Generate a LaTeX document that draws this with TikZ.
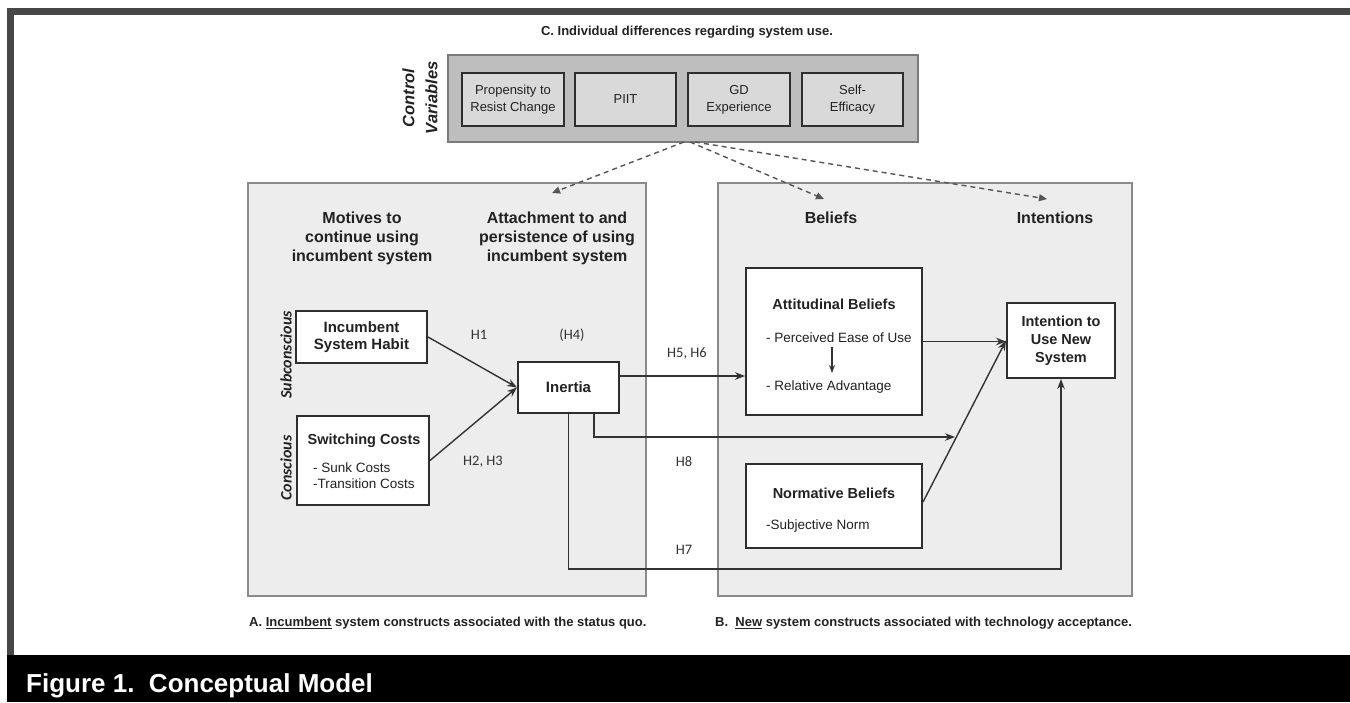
\documentclass[tikz,border=0pt]{standalone}
\usepackage{fontspec}
\setmainfont{Liberation Sans}
\newfontfamily\carl{Carlito}
\usetikzlibrary{arrows.meta}
\definecolor{framegray}{HTML}{474747}
\definecolor{panelfill}{HTML}{EDEDED}
\definecolor{panelline}{HTML}{8A8A8A}
\definecolor{cvfill}{HTML}{BEBEBE}
\definecolor{cvline}{HTML}{7A7A7A}
\definecolor{cvinner}{HTML}{D9D9D9}
\definecolor{boxline}{HTML}{2E2E2E}
\definecolor{txt}{HTML}{222222}
\definecolor{linec}{HTML}{333333}
\definecolor{dashc}{HTML}{555555}
\begin{document}
\begin{tikzpicture}[x=1pt,y=-1pt,
  every node/.style={inner sep=0pt, text=txt},
  panel/.style={draw=panelline, fill=panelfill, line width=1.6pt},
  cvbox/.style={draw=cvline, fill=cvfill, line width=1.6pt},
  cvitem/.style={draw=boxline, fill=cvinner, line width=2pt, minimum height=53pt, align=center, font=\fontsize{13}{17}\selectfont},
  wbox/.style={draw=boxline, fill=white, line width=2pt, align=center},
  btitle/.style={font=\fontsize{14.5}{17.5}\selectfont\bfseries, align=center},
  bitem/.style={anchor=west, font=\fontsize{13.5}{16}\selectfont},
  head/.style={font=\fontsize{16}{19}\selectfont\bfseries, align=center},
  hlab/.style={font=\carl\fontsize{14.5}{17}\selectfont, text=linec},
  side/.style={font=\carl\fontsize{16}{19}\selectfont\bfseries\itshape, rotate=90},
  captext/.style={anchor=west, font=\fontsize{13}{16}\selectfont\bfseries},
  arr/.style={draw=linec, line width=1.4pt, -{Stealth[length=10pt,width=7.5pt]}},
  darr/.style={draw=dashc, line width=1.4pt, dash pattern=on 5pt off 4pt, -{Triangle[length=8pt,width=7pt]}}
]
\useasboundingbox (0,0) rectangle (1350,702);
\fill[white] (0,0) rectangle (1350,702);
% frame
\fill[framegray] (7,8) rectangle (1350,15);
\fill[framegray] (7,8) rectangle (14,655);
\fill[black] (7,655) rectangle (1350,702);
\node[anchor=base west, text=white, font=\fontsize{26}{30}\selectfont\bfseries] (fig) at (26,692) {Figure 1.\ \ Conceptual Model};

% control variables
\node[font=\fontsize{13}{16}\selectfont\bfseries] (ctitle) at (687,32) {C. Individual differences regarding system use.};
\node[cvbox, minimum width=470pt, minimum height=87pt] (cv) at (683,98.5) {};
\node[cvitem, minimum width=102pt] (prc) at (513,99.5) {Propensity to\\Resist Change};
\node[cvitem, minimum width=101pt] (piit) at (625.5,99.5) {PIIT};
\node[cvitem, minimum width=102pt] (gd) at (739,99.5) {GD\\Experience};
\node[cvitem, minimum width=101pt] (se) at (852.5,99.5) {Self-\\Efficacy};
\node[rotate=90, align=center, font=\fontsize{16.5}{23}\selectfont\bfseries\itshape] (cvlab) at (420,98) {Control\\Variables};

% panels
\node[panel, minimum width=398pt, minimum height=413pt] (lp) at (447,389.5) {};
\node[panel, minimum width=414pt, minimum height=413pt] (rp) at (925,389.5) {};

% headers
\node[head] (h1t) at (362,238) {Motives to\\continue using\\incumbent system};
\node[head] (h2t) at (557,238) {Attachment to and\\persistence of using\\incumbent system};
\node[head] (h3t) at (831,218) {Beliefs};
\node[head] (h4t) at (1055,218) {Intentions};

% side labels
\node[side] (sub) at (286,355) {Subconscious};
\node[side] (con) at (286,468) {Conscious};

% left boxes
\node[wbox, minimum width=131pt, minimum height=52pt, font=\fontsize{15}{17.5}\selectfont\bfseries] (habit) at (361.5,337) {Incumbent\\System Habit};
\node[wbox, minimum width=132pt, minimum height=89pt] (sc) at (363,460.5) {};
\node[btitle] (sct) at (364,441) {Switching Costs};
\node[bitem] (sc1) at (313,468) {- Sunk Costs};
\node[bitem] (sc2) at (313,484) {-Transition Costs};
\node[wbox, minimum width=101pt, minimum height=51pt, font=\fontsize{15}{17.5}\selectfont\bfseries] (inertia) at (568.5,387.5) {Inertia};

% right boxes
\node[wbox, minimum width=176pt, minimum height=147pt] (ab) at (834,341.5) {};
\node[btitle] (abt) at (834,304) {Attitudinal Beliefs};
\node[bitem] (ab1) at (766,338) {- Perceived Ease of Use};
\node[bitem] (ab2) at (766,387) {- Relative Advantage};
\node[wbox, minimum width=176pt, minimum height=84pt] (nb) at (834,506) {};
\node[btitle] (nbt) at (834,493) {Normative Beliefs};
\node[bitem] (nb1) at (766,526) {-Subjective Norm};
\node[wbox, minimum width=108pt, minimum height=75pt, font=\fontsize{14.5}{18}\selectfont\bfseries] (ib) at (1061,340.5) {Intention to\\Use New\\System};

% hypothesis labels
\node[hlab] (lh1) at (479,335) {H1};
\node[hlab] (lh4) at (572,335) {(H4)};
\node[hlab] (lh23) at (483,462) {H2, H3};
\node[hlab] (lh56) at (687,354) {H5, H6};
\node[hlab] (lh8) at (684,462) {H8};
\node[hlab] (lh7) at (684,550) {H7};

% captions
\node[captext] (capa) at (249,623) {A. \underline{Incumbent} system constructs associated with the status quo.};
\node[captext] (capb) at (715,623) {B.\ \ \underline{New} system constructs associated with technology acceptance.};

% coordinates
\coordinate (cvs1) at (684,142);
\coordinate (cvs2) at (690,142);
\coordinate (cvs3) at (695,142);
\coordinate (d1) at (552,193);
\coordinate (d2) at (824,199);
\coordinate (d3) at (1047,199);
\coordinate (h8end) at (955,437);
\coordinate (h8y) at (0,437);
\coordinate (h7y) at (0,569);
\coordinate (peoa) at (832,347);
\coordinate (peob) at (832,373);

% dashed arrows
\draw[darr] (cvs1) -- (d1);
\draw[darr] (cvs2) -- (d2);
\draw[darr] (cvs3) -- (d3);

% solid arrows
\draw[arr] (habit.east) -- (inertia.west);
\draw[arr] (sc.east) -- (inertia.west);
\draw[arr] ([yshift=11.5pt]inertia.east) coordinate (h56s) -- (h56s -| ab.west);
\draw[arr] ([xshift=25.5pt]inertia.south) |- (h8end);
\draw[arr] (inertia.south) -- (inertia.south |- h7y) -| (ib.south);
\draw[arr] (ab.east) -- (ab.east -| ib.west);
\draw[arr] ([yshift=4pt]nb.east) -- (ib.west);
\draw[draw=linec, line width=1.3pt, -{Stealth[length=8pt,width=6pt]}] (peoa) -- (peob);
\end{tikzpicture}
\end{document}
